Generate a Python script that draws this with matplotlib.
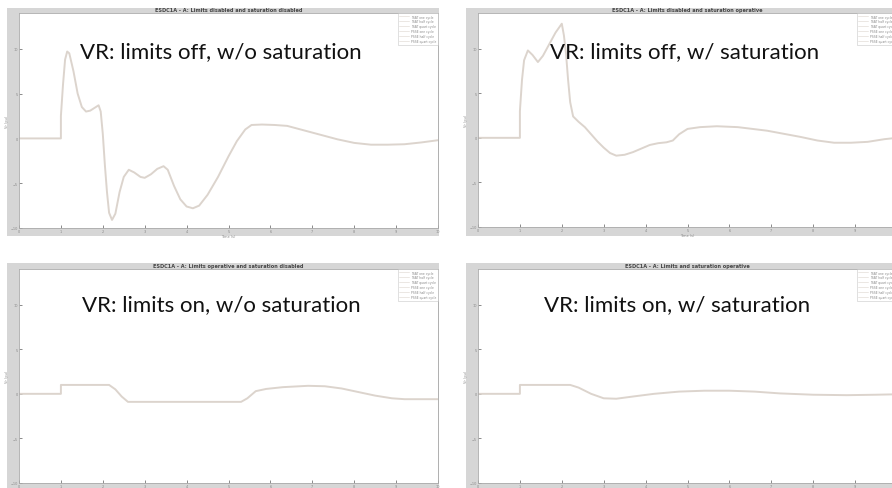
import matplotlib.pyplot as plt
from matplotlib.patches import Rectangle
from matplotlib.lines import Line2D

W, H = 892, 489

# curve samples (time in s, Vr in pu)
t_off_nosat = [0, 1.0, 1.0, 1.05, 1.1, 1.15, 1.2, 1.3, 1.4, 1.5, 1.6, 1.7, 1.8, 1.9,
               1.95, 2.0, 2.05, 2.1, 2.15, 2.22, 2.3, 2.4, 2.5, 2.62, 2.75, 2.9, 3.0,
               3.15, 3.3, 3.45, 3.55, 3.7, 3.85, 4.0, 4.15, 4.3, 4.5, 4.75, 5.0, 5.2,
               5.4, 5.55, 5.8, 6.1, 6.4, 6.8, 7.2, 7.6, 8.0, 8.4, 8.8, 9.2, 9.6, 10.0]
v_off_nosat = [0, 0, 2.5, 6.0, 8.8, 9.7, 9.5, 7.5, 5.0, 3.5, 3.0, 3.1, 3.4, 3.7,
               3.0, 0.5, -3.0, -6.0, -8.3, -9.1, -8.4, -6.0, -4.3, -3.5, -3.8, -4.3, -4.4,
               -4.0, -3.4, -3.1, -3.5, -5.3, -6.8, -7.6, -7.8, -7.5, -6.3, -4.3, -2.0, -0.3,
               1.0, 1.5, 1.55, 1.5, 1.4, 0.9, 0.4, -0.1, -0.5, -0.7, -0.7, -0.65, -0.45, -0.2]

t_off_sat = [0, 1.0, 1.0, 1.05, 1.1, 1.19, 1.3, 1.43, 1.55, 1.7, 1.85, 2.0, 2.05, 2.1,
             2.15, 2.2, 2.27, 2.4, 2.55, 2.7, 2.85, 3.0, 3.15, 3.3, 3.5, 3.7, 3.9, 4.1,
             4.3, 4.5, 4.65, 4.8, 5.0, 5.3, 5.7, 6.2, 6.9, 7.3, 7.7, 8.1, 8.5, 8.9, 9.3,
             9.7, 10.0]
v_off_sat = [0, 0, 3.0, 6.5, 8.7, 9.8, 9.3, 8.5, 9.2, 10.5, 11.8, 12.8, 11.5, 9.5,
             6.5, 4.0, 2.4, 1.8, 1.2, 0.4, -0.4, -1.1, -1.7, -2.0, -1.9, -1.6, -1.2, -0.8,
             -0.6, -0.5, -0.3, 0.4, 1.0, 1.2, 1.3, 1.2, 0.8, 0.45, 0.1, -0.3, -0.55, -0.55,
             -0.45, -0.15, 0.0]

t_on_nosat = [0, 1.0, 1.0, 2.15, 2.3, 2.45, 2.6, 5.3, 5.45, 5.65, 5.9, 6.3, 6.9, 7.3,
              7.7, 8.1, 8.5, 8.9, 9.2, 10.0]
v_on_nosat = [0, 0, 1.0, 1.0, 0.5, -0.3, -0.9, -0.9, -0.5, 0.3, 0.55, 0.75, 0.9, 0.85,
              0.6, 0.2, -0.2, -0.5, -0.6, -0.6]

t_on_sat = [0, 1.0, 1.0, 2.2, 2.4, 2.7, 3.0, 3.3, 3.7, 4.2, 4.8, 5.4, 6.0, 6.6, 7.2,
            8.0, 8.8, 9.5, 10.0]
v_on_sat = [0, 0, 1.0, 1.0, 0.7, 0.0, -0.5, -0.55, -0.3, 0.0, 0.25, 0.35, 0.35, 0.25,
            0.05, -0.1, -0.15, -0.1, -0.05]

titles = ["ESDC1A - A: Limits disabled and saturation disabled",
          "ESDC1A - A: Limits disabled and saturation operative",
          "ESDC1A - A: Limits operative and saturation disabled",
          "ESDC1A - A: Limits and saturation operative"]
overlays = ["VR: limits off, w/o saturation", "VR: limits off, w/ saturation",
            "VR: limits on, w/o saturation", "VR: limits on, w/ saturation"]
legend_labels = ["TSAT one cycle", "TSAT half cycle", "TSAT quart cycle",
                 "PSSE one cycle", "PSSE half cycle", "PSSE quart cycle"]
xticks = list(range(0, 11))
yticks = [-10, -5, 0, 5, 10]

series = [(t_off_nosat, v_off_nosat), (t_off_sat, v_off_sat),
          (t_on_nosat, v_on_nosat), (t_on_sat, v_on_sat)]

# pixel boxes: grey frame, axes  (x0, y0, x1, y1 from top-left)
frames = [(7, 9, 439, 237), (466, 9, 905, 237), (7, 264, 439, 495), (466, 264, 905, 495)]
boxes = [(19, 14, 438, 229), (478, 14, 897, 228), (19, 270, 438, 484), (478, 270, 897, 484)]
overlay_pos = [(221, 52), (685, 52), (221, 305), (677, 305)]


def frac(x0, y0, x1, y1):
    return [x0 / W, 1 - y1 / H, (x1 - x0) / W, (y1 - y0) / H]


fig = plt.figure(figsize=(W / 100, H / 100), dpi=100)
fig.patch.set_facecolor('white')

for i in range(4):
    fx = frac(*frames[i])
    fig.patches.append(Rectangle((fx[0], fx[1]), fx[2], fx[3], transform=fig.transFigure,
                                 facecolor='#d6d6d6', edgecolor='none', zorder=-10))
    ax = fig.add_axes(frac(*boxes[i]))
    ax.set_zorder(1)
    ax.set_facecolor('white')
    t, v = series[i]
    ax.plot(t, v, color='#dcd4cd', lw=1.4, solid_joinstyle='round')
    ax.set_xlim(0, 10)
    ax.set_ylim(-10, 14)
    ax.set_xticks(xticks)
    ax.set_yticks(yticks)
    ax.tick_params(direction='in', length=2.5, width=0.6, color='#777777',
                   labelsize=2.5, labelcolor='#888888', pad=1)
    for s in ax.spines.values():
        s.set_color('#aaaaaa')
        s.set_linewidth(0.6)
    ax.set_title(titles[i], fontsize=3.6, fontweight='bold', color='#444444', pad=1.5)
    ax.set_ylabel('Vr (pu)', fontsize=2.5, color='#888888', labelpad=1)
    if i < 2:
        ax.set_xlabel('Time (s)', fontsize=2.5, color='#888888', labelpad=0.5)
    handles = [Line2D([], [], color='#dcd4cd', lw=0.4) for _ in legend_labels]
    leg = ax.legend(handles, legend_labels, loc='upper right', fontsize=2.2,
                    borderaxespad=0, handlelength=3, labelspacing=0.3,
                    frameon=True, fancybox=False, borderpad=0.5)
    leg.get_frame().set_edgecolor('#bbbbbb')
    leg.get_frame().set_linewidth(0.4)
    for txt in leg.get_texts():
        txt.set_color('#888888')
    fig.text(overlay_pos[i][0] / W, 1 - overlay_pos[i][1] / H, overlays[i],
             fontsize=16, family='Lato', color='#111111', ha='center', va='center',
             zorder=5)

fig.savefig('out.png', dpi=100)
